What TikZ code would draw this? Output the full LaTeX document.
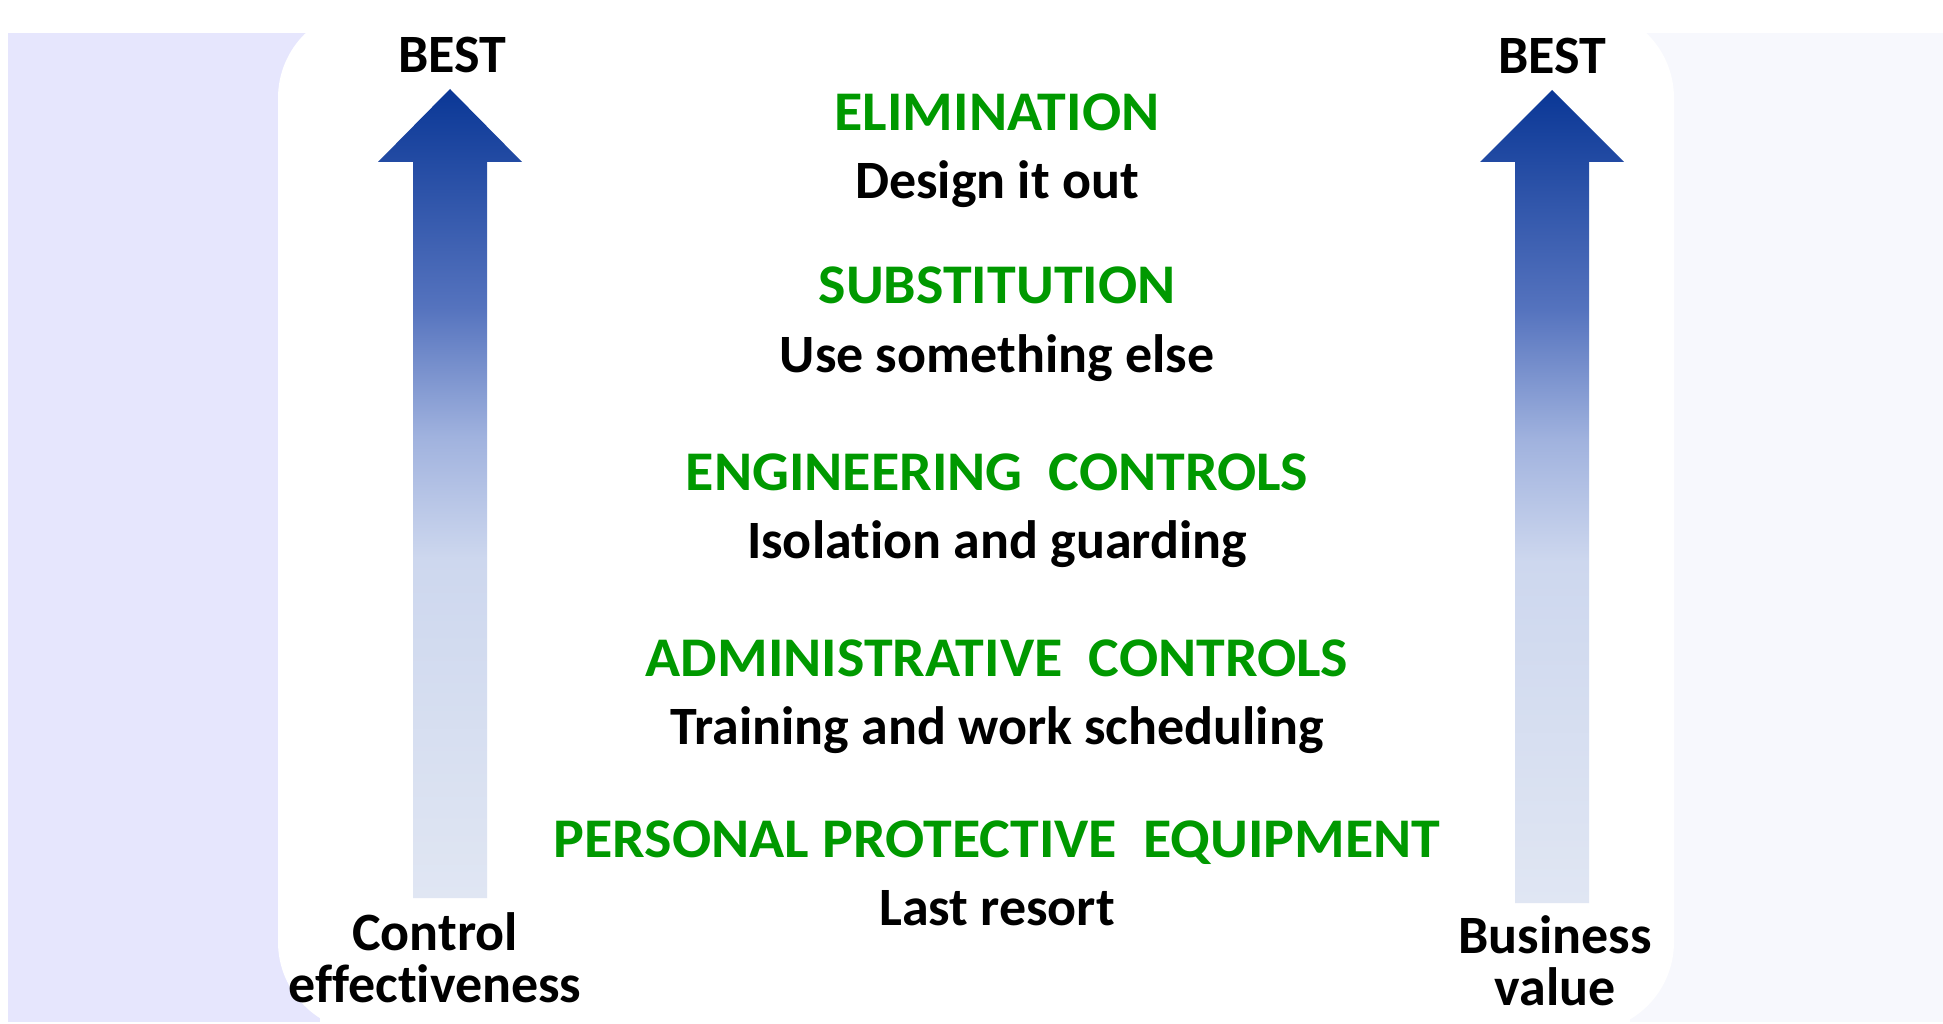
\documentclass[tikz,border=0pt]{standalone}
\usepackage{fontspec}
\setmainfont{Carlito}[Ligatures=NoCommon]
\newfontfamily\titlefont{Carlito}[FakeStretch=1.035, Ligatures=NoCommon]
\usetikzlibrary{positioning,calc}

\definecolor{lavender}{RGB}{230,230,253}
\definecolor{paleblue}{RGB}{247,248,253}
\definecolor{hiergreen}{RGB}{0,153,0}
\definecolor{arrowdark}{RGB}{10,55,150}
\definecolor{arrowdeep}{RGB}{85,115,190}
\definecolor{arrowmid}{RGB}{160,178,222}
\definecolor{arrowpale}{RGB}{205,215,238}
\definecolor{arrowlight}{RGB}{224,230,243}

\pgfdeclareverticalshading{arrowfade}{100bp}{color(0bp)=(arrowlight);
  color(25bp)=(arrowlight); color(46bp)=(arrowpale); color(53.5bp)=(arrowmid);
  color(61.5bp)=(arrowdeep); color(75bp)=(arrowdark); color(100bp)=(arrowdark)}

\newcommand{\bigtitle}{\titlefont\bfseries\fontsize{56}{50}\selectfont}
\newcommand{\bignote}{\bfseries\fontsize{54}{52}\selectfont}

\tikzset{
  level/.style={font=\bigtitle, text=hiergreen, inner sep=0pt, anchor=base},
  levelnote/.style={font=\bignote, text=black, inner sep=0pt},
  axislabel/.style={font=\bignote, text=black, inner sep=0pt, align=center},
  gradarrow/.style={shading=arrowfade}
}

\begin{document}
\begin{tikzpicture}[x=1pt,y=-1pt]
   \useasboundingbox (0,0) rectangle (1943,1024);
   \fill[white] (0,0) rectangle (1943,1024);

   % side panels and card
   \fill[lavender] (8,33) rectangle (320,1022);
   \fill[paleblue] (1630,33) rectangle (1943,1022);
   \fill[white, rounded corners=90pt] (278,8) rectangle (1674,1032);

   % arrows
   \coordinate (tipL)  at (450,89);
   \coordinate (footL) at (450,898);
   \coordinate (tipR)  at (1552,90);
   \coordinate (footR) at (1552,903);

   \shade[gradarrow] (tipL) -- (522,162) -- (487,162) -- (487,898)
      -- (413,898) -- (413,162) -- (378,162) -- cycle;
   \shade[gradarrow] (tipR) -- (1624,162) -- (1589,162) -- (1589,903)
      -- (1515,903) -- (1515,162) -- (1480,162) -- cycle;

   \node[axislabel, anchor=south, above=16pt of tipL, xshift=2pt] (bestL) {BEST};
   \node[axislabel, anchor=south, above=16pt of tipR] (bestR) {BEST};
   \node[axislabel, below=14pt of footL, xshift=-15pt] (ctrl) {Control\\effectiveness};
   \node[axislabel, below=12pt of footR, xshift=3pt]  (biz)  {Business\\value};

   % hierarchy levels
   \node[level] (elim)  at (997,131) {ELIMINATION};
   \node[level] (subst) at (997,304) {SUBSTITUTION};
   \node[level] (eng)   at (997,490) {ENGINEERING\ \ CONTROLS};
   \node[level] (admin) at (997,676) {ADMINISTRATIVE\ \ CONTROLS};
   \node[level] (ppe)   at (997,857) {PERSONAL PROTECTIVE\ \ EQUIPMENT};

   \node[levelnote, below=68pt of elim.base,  anchor=base] (elimnote)  {Design it out};
   \node[levelnote, below=68pt of subst.base, anchor=base] (substnote) {Use something else};
   \node[levelnote, below=68pt of eng.base,   anchor=base] (engnote)   {Isolation and guarding};
   \node[levelnote, below=68pt of admin.base, anchor=base] (adminnote) {Training and work scheduling};
   \node[levelnote, below=68pt of ppe.base,   anchor=base] (ppenote)   {Last resort};
\end{tikzpicture}
\end{document}
